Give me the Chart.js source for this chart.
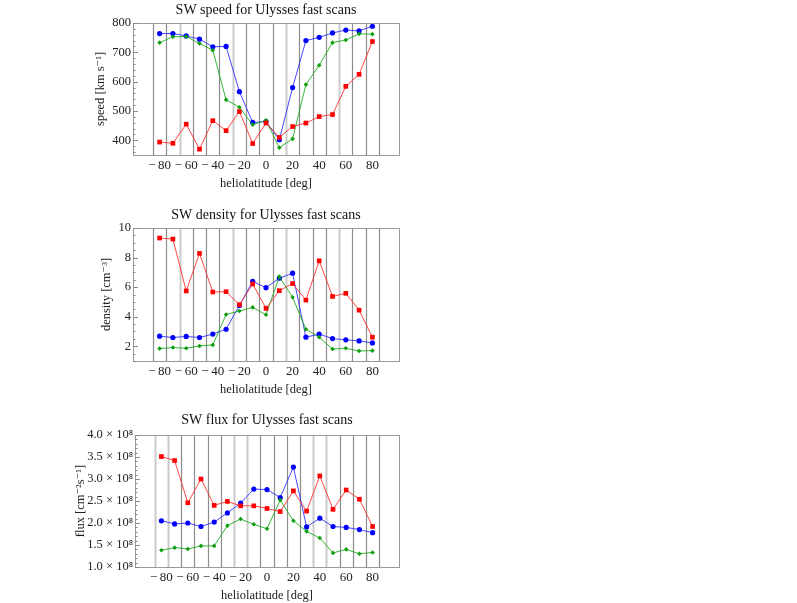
<!DOCTYPE html>
<html lang="en">
<head>
    <meta charset="UTF-8">
    <title>SW speed, density and flux for Ulysses fast scans</title>
    <script src="https://cdn.jsdelivr.net/npm/chart.js"></script>
    <style>
        body {
            margin: 0;
            background: #ffffff;
            width: 797px;
            height: 603px;
            position: relative;
            overflow: hidden;
        }
        canvas {
            position: absolute;
            left: 0;
        }
        #speedChart { top: 0px; }
        #densityChart { top: 205px; }
        #fluxChart { top: 412px; }
    </style>
</head>
<body>
    <canvas id="speedChart" width="410" height="200"></canvas>
    <canvas id="densityChart" width="410" height="201"></canvas>
    <canvas id="fluxChart" width="410" height="200"></canvas>

    <script>
        // heliolatitude bins [deg]
        const lat = [-80, -70, -60, -50, -40, -30, -20, -10, 0, 10, 20, 30, 40, 50, 60, 70, 80];
        const xTickValues = [-80, -60, -40, -20, 0, 20, 40, 60, 80];
        const xTickLabels = ['\u2212\u200980', '\u2212\u200960', '\u2212\u200940', '\u2212\u200920', '0', '20', '40', '60', '80'];
        // vertical separators in every panel
        const gridLat = [-85, -75, -65, -55, -45, -35, -25, -15, -5, 5, 15, 25, 35, 45, 55, 65, 75, 85];

        // speed [km/s]
        const speedBlue  = [764, 764, 756, 745, 719, 720, 566, 461, 464, 402, 580, 740, 751, 766, 776, 773, 789];
        const speedGreen = [733, 753, 754, 730, 707, 538, 513, 453, 468, 375, 405, 590, 656, 733, 742, 763, 762];
        const speedRed   = [394, 390, 455, 370, 467, 433, 498, 389, 459, 410, 447, 459, 481, 488, 584, 625, 737];
        const speedTicks = [400, 500, 600, 700, 800];
        const speedLabels = ['400', '500', '600', '700', '800'];

        // density [cm^-3]
        const densBlue  = [2.68, 2.59, 2.66, 2.59, 2.82, 3.15, 4.76, 6.39, 5.96, 6.60, 6.94, 2.61, 2.82, 2.52, 2.43, 2.36, 2.22];
        const densGreen = [1.84, 1.91, 1.86, 2.02, 2.09, 4.15, 4.38, 4.63, 4.13, 6.71, 5.31, 3.15, 2.61, 1.81, 1.86, 1.68, 1.70];
        const densRed   = [9.32, 9.25, 5.74, 8.28, 5.67, 5.69, 4.81, 6.21, 4.56, 5.76, 6.24, 5.12, 7.78, 5.37, 5.58, 4.44, 2.61];
        const densTicks = [2, 4, 6, 8, 10];
        const densLabels = ['2', '4', '6', '8', '10'];

        // flux [cm^-2 s^-1]
        const fluxBlue  = [2.05e8, 1.98e8, 2.00e8, 1.92e8, 2.02e8, 2.23e8, 2.45e8, 2.77e8, 2.76e8, 2.58e8, 3.27e8, 1.91e8, 2.11e8, 1.92e8, 1.90e8, 1.85e8, 1.78e8];
        const fluxGreen = [1.38e8, 1.44e8, 1.41e8, 1.48e8, 1.48e8, 1.94e8, 2.09e8, 1.97e8, 1.87e8, 2.52e8, 2.05e8, 1.81e8, 1.66e8, 1.32e8, 1.40e8, 1.30e8, 1.33e8];
        const fluxRed   = [3.51e8, 3.42e8, 2.46e8, 3.00e8, 2.40e8, 2.49e8, 2.39e8, 2.39e8, 2.33e8, 2.26e8, 2.73e8, 2.27e8, 3.07e8, 2.31e8, 2.75e8, 2.54e8, 1.92e8];
        const fluxTicks = [1.0e8, 1.5e8, 2.0e8, 2.5e8, 3.0e8, 3.5e8, 4.0e8];
        const fluxLabels = ['1.0 \u00d7 10\u2078', '1.5 \u00d7 10\u2078', '2.0 \u00d7 10\u2078', '2.5 \u00d7 10\u2078',
                            '3.0 \u00d7 10\u2078', '3.5 \u00d7 10\u2078', '4.0 \u00d7 10\u2078'];

        Chart.defaults.font.family = "'Liberation Serif', 'DejaVu Serif', serif";
        Chart.defaults.color = '#222';

        const pts = arr => arr.map((v, i) => ({ x: lat[i], y: v }));

        // frame, inward ticks and the vertical separators
        const framePlugin = {
            id: 'frame',
            beforeDatasetsDraw(chart, args, opts) {
                const { ctx, chartArea: a, scales: { x } } = chart;
                ctx.save();
                gridLat.forEach(v => {
                    const px = Math.round(x.getPixelForValue(v)) + 0.5;
                    const light = opts.light.includes(v);
                    ctx.strokeStyle = light ? '#cacaca' : '#8c8c8c';
                    ctx.lineWidth = light ? 2 : 1.2;
                    ctx.beginPath();
                    ctx.moveTo(px, a.top);
                    ctx.lineTo(px, a.bottom);
                    ctx.stroke();
                });
                ctx.restore();
            },
            afterDatasetsDraw(chart, args, opts) {
                const { ctx, chartArea: a, scales: { y } } = chart;
                ctx.save();
                ctx.strokeStyle = '#999';
                ctx.lineWidth = 1;
                ctx.strokeRect(Math.round(a.left) + 0.5, Math.round(a.top) + 0.5,
                               Math.round(a.right - a.left), Math.round(a.bottom - a.top));
                ctx.strokeStyle = '#888';
                ctx.beginPath();
                const ymin = y.min, ymax = y.max, step = opts.minorStep;
                for (let k = Math.ceil(ymin / step - 1e-9); k * step <= ymax * (1 + 1e-9); k++) {
                    const v = k * step;
                    const py = Math.round(y.getPixelForValue(v)) + 0.5;
                    const major = opts.majors.some(m => Math.abs(m - v) < step / 10);
                    const len = major ? 5 : 2.5;
                    ctx.moveTo(a.left, py);
                    ctx.lineTo(a.left + len, py);
                }
                ctx.stroke();
                ctx.restore();
            }
        };

        function makePanel(id, p) {
            const ctx = document.getElementById(id).getContext('2d');
            return new Chart(ctx, {
                type: 'line',
                data: {
                    datasets: [{
                        data: pts(p.red),
                        borderColor: 'rgba(255,40,40,0.85)',
                        backgroundColor: '#ff0000',
                        pointStyle: 'rect',
                        pointRadius: 3.3,
                        borderWidth: 1,
                        pointBorderWidth: 0
                    }, {
                        data: pts(p.green),
                        borderColor: 'rgba(20,170,20,0.85)',
                        backgroundColor: '#109d10',
                        pointStyle: 'rectRot',
                        pointRadius: 2.3,
                        borderWidth: 1,
                        pointBorderWidth: 0
                    }, {
                        data: pts(p.blue),
                        borderColor: 'rgba(40,40,255,0.85)',
                        backgroundColor: '#0000ff',
                        pointStyle: 'circle',
                        pointRadius: 2.6,
                        borderWidth: 1,
                        pointBorderWidth: 0
                    }]
                },
                options: {
                    responsive: false,
                    animation: false,
                    layout: { padding: { left: 0, right: 11, top: 0, bottom: 0 } },
                    plugins: {
                        legend: { display: false },
                        tooltip: { enabled: false },
                        title: {
                            display: true,
                            fullSize: false,
                            text: p.title,
                            font: { size: 14, weight: 'normal' },
                            color: '#111',
                            padding: { top: p.titleTop, bottom: 6.2 - p.titleTop }
                        },
                        frame: { light: p.light, minorStep: p.minorStep, majors: p.yTicks }
                    },
                    scales: {
                        x: {
                            type: 'linear',
                            min: -100,
                            max: 100,
                            grid: { display: false, drawTicks: false },
                            border: { display: false },
                            afterBuildTicks: s => { s.ticks = xTickValues.map(v => ({ value: v })); },
                            afterFit: s => { s.height = 45; },
                            ticks: {
                                padding: 3,
                                autoSkip: false,
                                maxRotation: 0,
                                font: { size: 13 },
                                callback: (v, i) => xTickLabels[i]
                            },
                            title: {
                                display: true,
                                text: 'heliolatitude [deg]',
                                font: { size: 12.5 },
                                padding: { top: 0, bottom: 8.5 }
                            }
                        },
                        y: {
                            min: p.yMin,
                            max: p.yMax,
                            grid: { display: false, drawTicks: false },
                            border: { display: false },
                            afterBuildTicks: s => { s.ticks = p.yTicks.map(v => ({ value: v })); },
                            afterFit: s => { s.width = p.axisWidth; },
                            ticks: {
                                padding: 2,
                                font: { size: 12.5 },
                                callback: (v, i) => p.yLabels[i]
                            },
                            title: {
                                display: true,
                                text: p.yTitle,
                                font: { size: 12.5 },
                                padding: { top: p.yTitleX - 7.5, bottom: 0 }
                            }
                        }
                    }
                },
                plugins: [framePlugin]
            });
        }

        makePanel('speedChart', {
            title: 'SW speed for Ulysses fast scans',
            yTitle: 'speed [km s\u207b\u00b9]',
            yMin: 350, yMax: 800,
            yTicks: speedTicks, yLabels: speedLabels, minorStep: 20,
            blue: speedBlue, green: speedGreen, red: speedRed,
            light: [-65, -25, 15, 55],
            axisWidth: 133, yTitleX: 101, titleTop: 2
        });

        makePanel('densityChart', {
            title: 'SW density for Ulysses fast scans',
            yTitle: 'density [cm\u207b\u00b3]',
            yMin: 1, yMax: 10,
            yTicks: densTicks, yLabels: densLabels, minorStep: 0.5,
            blue: densBlue, green: densGreen, red: densRed,
            light: [-65, -25, 15, 55],
            axisWidth: 133, yTitleX: 107, titleTop: 2
        });

        makePanel('fluxChart', {
            title: 'SW flux for Ulysses fast scans',
            yTitle: 'flux [cm\u207b\u00b2s\u207b\u00b9]',
            yMin: 1.0e8, yMax: 4.0e8,
            yTicks: fluxTicks, yLabels: fluxLabels, minorStep: 0.1e8,
            blue: fluxBlue, green: fluxGreen, red: fluxRed,
            light: [-85, -75, -25, -15, 35, 45],
            axisWidth: 135, yTitleX: 81, titleTop: 0
        });
    </script>
</body>
</html>
